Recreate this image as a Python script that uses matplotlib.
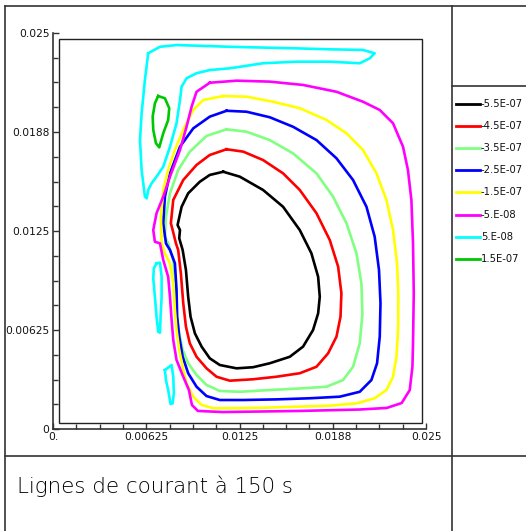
import numpy as np
import matplotlib
matplotlib.use("Agg")
import matplotlib.pyplot as plt
from matplotlib.lines import Line2D
from matplotlib.patches import Rectangle

# ---------------- data ----------------
levels = ["-5.5E-07", "-4.5E-07", "-3.5E-07", "-2.5E-07",
          "-1.5E-07", "-5.E-08", "5.E-08", "1.5E-07"]
colors = ["#000000", "#ff0000", "#80ff80", "#0000ff",
          "#ffff00", "#ff00ff", "#00ffff", "#00c800"]

xticks = [0.0, 0.00625, 0.0125, 0.01875, 0.025]
xlabels = ["0.", "0.00625", "0.0125", "0.0188", "0.025"]
ylabels = ["0", "0.00625", "0.0125", "0.0188", "0.025"]
title = "Lignes de courant à 150 s"

MM = 1e-3  # contour vertices below are read in millimetres

# -5.5E-07
c_m55_x = [11.41, 12.52, 14.08, 15.42, 16.54, 17.32, 17.77, 17.88, 17.77, 17.43, 16.76, 15.87, 14.53, 13.41, 12.30,
           11.18, 10.51, 9.96, 9.51, 9.22, 9.06, 8.91, 8.69, 8.46, 8.51, 8.35, 8.62, 9.06, 9.84, 10.51]
c_m55_y = [16.24, 15.93, 15.09, 14.03, 12.56, 11.09, 9.61, 8.35, 7.30, 6.25, 5.20, 4.56, 4.15, 3.90, 3.83,
           4.04, 4.46, 5.20, 6.04, 7.09, 8.35, 10.04, 11.30, 12.04, 12.56, 12.88, 14.03, 14.88, 15.61, 16.04]
# -4.5E-07
c_m45_x = [11.63, 12.75, 14.08, 15.42, 16.54, 17.66, 18.55, 19.11, 19.33, 19.27, 19.00, 18.44, 17.66, 16.54, 14.98,
           13.41, 11.85, 10.96, 10.29, 9.62, 9.17, 8.91, 8.73, 8.57, 8.39, 8.24, 8.02, 7.90, 8.06, 8.73, 9.62, 10.51]
c_m45_y = [17.66, 17.51, 16.98, 16.14, 15.09, 13.62, 11.93, 10.25, 8.57, 7.09, 5.83, 4.78, 3.93, 3.52, 3.30,
           3.14, 3.05, 3.30, 3.83, 4.56, 5.41, 6.46, 7.94, 9.83, 11.30, 11.72, 12.56, 12.99, 14.46, 15.72, 16.67, 17.30]
# -3.5E-07
c_m35_x = [11.63, 12.97, 14.53, 16.09, 17.66, 18.77, 19.67, 20.34, 20.67, 20.74, 20.56, 20.11, 19.44, 18.33, 16.76,
           14.53, 12.52, 11.18, 10.29, 9.62, 9.06, 8.69, 8.46, 8.28, 8.22, 8.06, 7.72, 7.50, 7.57, 7.84, 8.39, 9.17, 10.29]
c_m35_y = [18.92, 18.77, 18.24, 17.40, 16.14, 14.67, 12.99, 11.09, 9.20, 7.30, 5.41, 3.93, 3.09, 2.67, 2.57,
           2.46, 2.35, 2.40, 2.78, 3.41, 4.15, 4.99, 6.04, 7.30, 9.20, 10.67, 11.72, 12.14, 13.40, 14.88, 16.35, 17.51, 18.50]
# -2.5E-07
c_m25_x = [11.63, 12.97, 14.53, 16.09, 17.66, 19.00, 20.11, 21.01, 21.56, 21.85, 21.95, 21.90, 21.72, 21.34, 20.56,
           19.22, 17.21, 14.98, 12.75, 11.18, 10.29, 9.62, 9.06, 8.69, 8.46, 8.32, 8.28, 8.17, 7.84, 7.57, 7.39, 7.50,
           7.84, 8.51, 9.40, 10.51]
c_m25_y = [20.09, 20.03, 19.68, 19.08, 18.24, 17.09, 15.72, 14.03, 12.14, 10.04, 7.94, 5.83, 4.15, 3.09, 2.35,
           2.04, 1.94, 1.87, 1.83, 1.83, 2.08, 2.67, 3.52, 4.56, 5.83, 7.09, 8.78, 10.46, 11.30, 11.72, 12.99, 14.67,
           16.14, 17.82, 18.98, 19.72]
# -1.5E-07
c_m15_x = [11.41, 12.97, 14.75, 16.54, 18.33, 19.67, 20.78, 21.68, 22.35, 22.79, 23.06, 23.15, 23.13, 23.02, 22.79,
           22.35, 21.56, 20.34, 18.55, 16.32, 14.08, 11.85, 10.74, 9.96, 9.40, 8.95, 8.69, 8.46, 8.28, 8.17, 8.06, 7.84,
           7.50, 7.28, 7.23, 7.39, 7.72, 8.17, 8.73, 9.40, 10.07]
c_m15_y = [21.02, 20.98, 20.66, 20.25, 19.51, 18.67, 17.61, 16.14, 14.46, 12.56, 10.46, 8.35, 6.25, 4.56, 3.30,
           2.46, 1.94, 1.62, 1.47, 1.41, 1.34, 1.31, 1.31, 1.52, 2.04, 2.89, 3.93, 4.99, 6.25, 7.51, 9.20, 10.46,
           11.09, 11.72, 13.40, 15.09, 16.35, 17.61, 18.88, 20.14, 20.77]
# -5.E-08
c_m05_x = [10.51, 12.30, 14.53, 16.76, 19.00, 20.78, 21.90, 22.79, 23.46, 23.79, 24.02, 24.13, 24.18, 24.13, 24.09,
           23.91, 23.37, 22.37, 20.56, 16.54, 11.38, 9.71, 9.31, 9.11, 8.73, 8.28, 8.06, 7.95, 7.84, 7.72, 7.39, 7.17,
           6.83, 6.72, 6.94, 7.39, 7.84, 8.51, 8.95, 9.29, 9.62]
c_m05_y = [21.86, 21.99, 21.93, 21.72, 21.29, 20.66, 20.14, 19.30, 17.82, 16.35, 14.46, 11.72, 8.57, 5.41, 3.93,
           2.46, 1.64, 1.33, 1.23, 1.14, 1.07, 1.14, 1.52, 2.46, 3.30, 4.36, 5.62, 6.88, 8.35, 9.61, 10.67, 11.72,
           11.82, 12.56, 13.62, 14.67, 15.93, 17.61, 19.08, 20.35, 21.29]
# 5.E-08 (three separate loops)
c_p05a_x = [6.38, 7.17, 8.28, 11.85, 16.32, 18.55, 20.78, 21.56, 21.23, 20.56, 18.55, 16.32, 14.08, 11.85, 10.51,
            9.62, 8.95, 8.62, 8.51, 8.28, 7.84, 7.39, 6.94, 6.61, 6.38, 6.28, 6.16, 5.94, 5.83, 5.94, 6.16]
c_p05a_y = [23.72, 24.13, 24.24, 24.13, 24.03, 23.97, 23.93, 23.72, 23.40, 23.09, 23.19, 23.19, 23.09, 22.77, 22.66,
            22.46, 22.14, 21.61, 20.77, 19.30, 17.82, 16.56, 15.93, 15.51, 15.09, 14.56, 14.67, 16.35, 18.24, 19.93, 22.03]
c_p05b_x = [6.94, 7.17, 7.28, 7.28, 7.21, 7.17, 7.05, 6.94, 6.83, 6.72, 6.76]
c_p05b_y = [10.46, 10.50, 9.61, 8.35, 7.09, 6.08, 6.14, 7.09, 8.35, 9.51, 10.15]
c_p05c_x = [7.50, 7.95, 8.06, 8.10, 8.02, 7.88, 7.72, 7.57]
c_p05c_y = [3.72, 4.04, 3.30, 2.25, 1.62, 1.58, 2.46, 3.09]
# 1.5E-07
c_p15_x = [7.05, 7.50, 7.79, 7.72, 7.39, 7.12, 6.90, 6.72, 6.68, 6.83]
c_p15_y = [21.02, 20.88, 20.25, 19.51, 18.67, 17.78, 18.04, 18.88, 19.72, 20.56]

contours = [
    (0, c_m55_x, c_m55_y), (1, c_m45_x, c_m45_y), (2, c_m35_x, c_m35_y),
    (3, c_m25_x, c_m25_y), (4, c_m15_x, c_m15_y), (5, c_m05_x, c_m05_y),
    (6, c_p05a_x, c_p05a_y), (6, c_p05b_x, c_p05b_y), (6, c_p05c_x, c_p05c_y),
    (7, c_p15_x, c_p15_y),
]

# ---------------- figure ----------------
W, H = 526, 531
plt.rcParams['font.family'] = ['DejaVu Sans']
fig = plt.figure(figsize=(W / 100, H / 100), dpi=100)

def fx(px):
    return px / W

def fy(py):
    return 1 - py / H

ax = fig.add_axes([fx(53), fy(429), fx(426) - fx(53), fy(33) - fy(429)])
ax.set_xlim(0, 0.025)
ax.set_ylim(0, 0.025)

frame_col = "#333333"
text_col = "#111111"
for side in ("top", "right"):
    ax.spines[side].set_visible(False)
for side in ("left", "bottom"):
    ax.spines[side].set_color(frame_col)
    ax.spines[side].set_linewidth(1.2)

# domain box (slightly inset from the axis lines)
ax.add_patch(Rectangle((6 / 373, 6 / 396), 363 / 373, 384 / 396, transform=ax.transAxes,
                       fill=False, edgecolor="#222222", linewidth=1.0, zorder=1))

for idx, xs, ys in contours:
    xs = np.array(xs + xs[:1]) * MM
    ys = np.array(ys + ys[:1]) * MM
    ax.plot(xs, ys, color=colors[idx], linewidth=1.9, solid_joinstyle="round", zorder=3)

ax.set_xticks(xticks)
ax.set_xticklabels(xlabels)
ax.set_yticks(xticks)
ax.set_yticklabels(ylabels)
minor = np.arange(0, 0.025 + 1e-9, 0.025 / 16)
ax.set_xticks(minor, minor=True)
ax.set_yticks(minor, minor=True)
ax.tick_params(which="major", direction="in", length=4.5, width=1.0, color=frame_col,
               labelsize=7.7, labelcolor=text_col, pad=2.5)
ax.tick_params(which="minor", direction="in", length=3.5, width=1.0, color=frame_col)

# ---------------- frame lines ----------------
lw_frame = 1.2
def fline(x0, y0, x1, y1):
    fig.add_artist(Line2D([fx(x0), fx(x1)], [fy(y0), fy(y1)], transform=fig.transFigure,
                          color=frame_col, linewidth=lw_frame))

fline(5, 6, W + 5, 6)        # top
fline(5, 6, 5, H + 5)        # left
fline(452, 6, 452, H + 5)    # vertical divider
fline(5, 456, W + 5, 456)    # horizontal divider
fline(452, 86, W + 5, 86)    # legend top divider

# ---------------- legend ----------------
for i, (lab, col) in enumerate(zip(levels, colors)):
    py = 104 + 22.1 * i
    fig.add_artist(Line2D([fx(456), fx(480)], [fy(py), fy(py)], transform=fig.transFigure,
                          color=col, linewidth=2.0))
    fig.text(fx(481), fy(py), lab, fontsize=7.2, color=text_col,
             ha="left", va="center")

# ---------------- title ----------------
fig.text(fx(17), fy(493), title, fontsize=15.4, fontweight=200, color="#000000",
         ha="left", va="baseline")

fig.savefig("out.png", dpi=100)
